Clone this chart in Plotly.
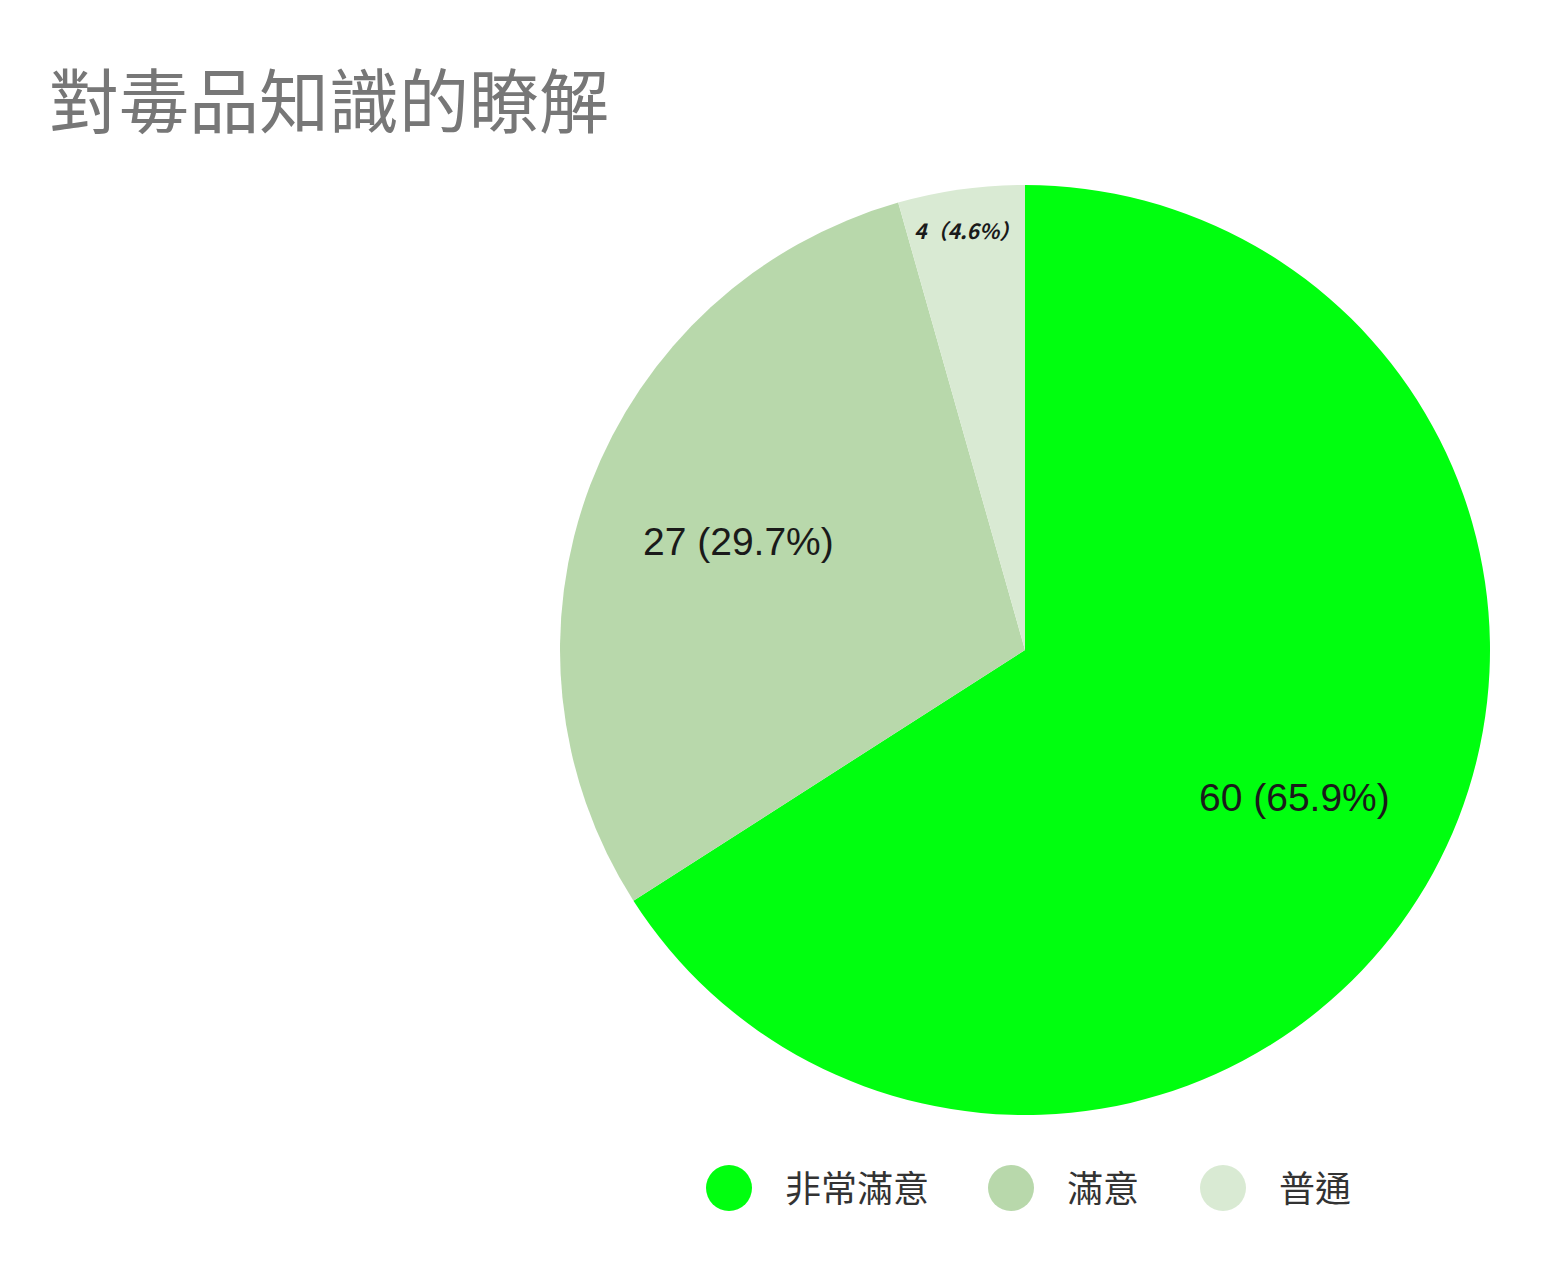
import math
import plotly.graph_objects as go

labels = ["非常滿意", "滿意", "普通"]
values = [60, 27, 4]
slice_text = ["60 (65.9%)", "27 (29.7%)", "4（4.6%）"]
colors = ["#00ff0f", "#b8d8ab", "#d9ead3"]
title_text = "對毒品知識的瞭解"

W, H = 1544, 1280
OFF = 8  # page body margin
cx, cy, r = 1025 - OFF, 650 - OFF, 465
label_rfrac = [0.66, 0.66, 0.912]
label_size = [39, 39, 21]

fig = go.Figure()
fig.add_trace(go.Pie(
    labels=labels,
    values=values,
    textinfo="none",
    sort=False,
    direction="clockwise",
    rotation=0,
    marker=dict(colors=colors, line=dict(width=0)),
    showlegend=False,
    hoverinfo="label+value+percent",
    domain=dict(x=[(cx - r) / W, (cx + r) / W], y=[1 - (cy + r) / H, 1 - (cy - r) / H]),
))

# slice labels placed at each slice's mid angle
total = sum(values)
cum = 0
for i, v in enumerate(values):
    mid = (cum + v / 2) / total * 2 * math.pi
    cum += v
    dx = math.sin(mid) * r * label_rfrac[i]
    dy = math.cos(mid) * r * label_rfrac[i]
    small = i == 2
    fig.add_annotation(
        xref="paper", yref="paper",
        x=(cx + dx) / W, y=1 - (cy - dy) / H,
        text=slice_text[i], showarrow=False, xanchor="center", yanchor="middle",
        font=dict(family="Noto Sans CJK TC" if small else "Liberation Sans, Arial",
                  size=label_size[i], color="#1a1a1a",
                  style="italic" if small else "normal",
                  weight=600 if small else "normal"),
    )

# custom legend (circle markers)
leg_circle_x = [729 - OFF, 1011 - OFF, 1223 - OFF]
leg_y = 1188 - OFF
rad = 23
for i, lab in enumerate(labels):
    x0 = leg_circle_x[i]
    fig.add_shape(type="circle", xref="paper", yref="paper",
                  x0=(x0 - rad) / W, x1=(x0 + rad) / W,
                  y0=1 - (leg_y + rad) / H, y1=1 - (leg_y - rad) / H,
                  fillcolor=colors[i], line=dict(width=0))
    fig.add_annotation(xref="paper", yref="paper", x=(x0 + 54) / W, y=1 - (leg_y - 2) / H,
                       text=lab, showarrow=False, xanchor="left", yanchor="middle",
                       font=dict(family="Noto Sans CJK TC", size=36, color="#333333"))

fig.add_annotation(xref="paper", yref="paper", x=(47 - OFF) / W, y=1 - (97 - OFF) / H,
                   text=title_text, showarrow=False, xanchor="left", yanchor="middle",
                   font=dict(family="Noto Sans CJK TC", size=70, color="#777777"))

fig.update_layout(
    width=W, height=H,
    margin=dict(l=0, r=0, t=0, b=0),
    paper_bgcolor="white",
    plot_bgcolor="white",
)

fig.write_html("out.html")
